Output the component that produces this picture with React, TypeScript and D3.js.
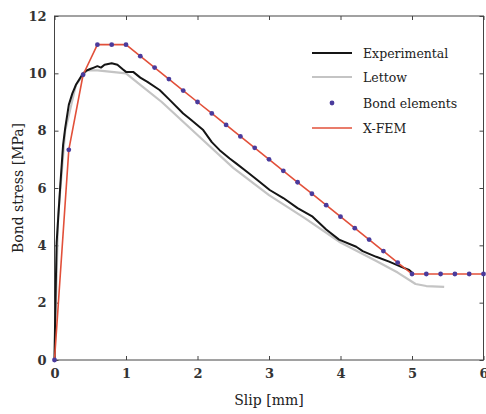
import * as d3 from "d3";
import { useEffect, useRef } from "react";

const W = 486;
const H = 414;

// X-FEM solution, also the bond element nodes (every 0.2 mm)
const xfemSlip = [0, 0.2, 0.4, 0.6, 0.8, 1.0, 1.2, 1.4, 1.6, 1.8, 2.0, 2.2, 2.4, 2.6, 2.8, 3.0, 3.2, 3.4, 3.6, 3.8, 4.0, 4.2, 4.4, 4.6, 4.8, 5.0, 5.2, 5.4, 5.6, 5.8, 6.0];
const xfemStress = [0, 7.33, 9.95, 11, 11, 11, 10.6, 10.2, 9.8, 9.4, 9.0, 8.6, 8.2, 7.8, 7.4, 7.0, 6.6, 6.2, 5.8, 5.4, 5.0, 4.6, 4.2, 3.8, 3.4, 3.0, 3.0, 3.0, 3.0, 3.0, 3.0];

const expSlip = [0, 0.01, 0.03, 0.08, 0.12, 0.15, 0.2, 0.25, 0.3, 0.35, 0.4, 0.45, 0.5, 0.55, 0.6, 0.65, 0.7, 0.8, 0.88, 0.95, 1.0, 1.1, 1.2, 1.3, 1.47, 1.6, 1.8, 1.9, 2.08, 2.2, 2.31, 2.45, 2.54, 2.7, 2.85, 3.01, 3.2, 3.4, 3.61, 3.8, 3.98, 4.22, 4.31, 4.5, 4.68, 4.85, 4.96, 5.0];
const expStress = [0, 1.6, 4.1, 6.05, 7.5, 8.1, 8.9, 9.3, 9.6, 9.8, 10.0, 10.1, 10.15, 10.2, 10.25, 10.2, 10.3, 10.35, 10.3, 10.15, 10.05, 10.05, 9.85, 9.7, 9.42, 9.1, 8.6, 8.4, 8.02, 7.6, 7.32, 7.03, 6.86, 6.55, 6.25, 5.93, 5.65, 5.3, 5.0, 4.55, 4.2, 3.95, 3.8, 3.6, 3.43, 3.25, 3.14, 3.05];

const lettowSlip = [0, 0.05, 0.15, 0.3, 0.45, 0.6, 0.8, 1.0, 1.2, 1.5, 2.0, 2.5, 3.0, 3.5, 4.0, 4.5, 4.8, 5.05, 5.2, 5.45];
const lettowStress = [0, 5, 8, 9.6, 10.1, 10.1, 10.05, 10.0, 9.6, 9.0, 7.85, 6.7, 5.75, 4.95, 4.1, 3.45, 3.05, 2.65, 2.58, 2.55];

const xTicks = [0, 1, 2, 3, 4, 5, 6];
const yTicks = [0, 2, 4, 6, 8, 10, 12];

const legendNames = ["Experimental", "Lettow", "Bond elements", "X-FEM"];

const FONT = "'DejaVu Serif', serif";

export default function App() {
  const svgRef = useRef<SVGSVGElement>(null);

  useEffect(() => {
    const svg = d3.select(svgRef.current);
    svg.selectAll("*").remove();

    const left = 54.5, right = 483.5, top = 16, bottom = 360;
    const x = d3.scaleLinear().domain([0, 6]).range([left, right]);
    const y = d3.scaleLinear().domain([0, 12]).range([bottom, top]);

    const g = svg.append("g");

    // frame
    g.append("rect")
      .attr("x", left).attr("y", top)
      .attr("width", right - left).attr("height", bottom - top)
      .attr("fill", "none").attr("stroke", "#444").attr("stroke-width", 1);

    // axes with inward ticks, mirrored on top/right
    const tickStyle = (sel: any) => {
      sel.select(".domain").remove();
      sel.selectAll("line").attr("stroke", "#444");
      sel.selectAll("text")
        .attr("fill", "#333")
        .attr("font-family", FONT)
        .attr("font-size", 13)
        .attr("font-weight", "bold");
    };

    g.append("g").attr("transform", `translate(0,${bottom})`)
      .call(d3.axisBottom(x).tickValues(xTicks).tickSizeInner(-4).tickSizeOuter(0).tickPadding(9).tickFormat(d3.format("d")))
      .call(tickStyle);
    g.append("g").attr("transform", `translate(0,${top})`)
      .call(d3.axisTop(x).tickValues(xTicks).tickSizeInner(-4).tickSizeOuter(0).tickFormat(() => ""))
      .call(tickStyle);
    g.append("g").attr("transform", `translate(${left},0)`)
      .call(d3.axisLeft(y).tickValues(yTicks).tickSizeInner(-4).tickSizeOuter(0).tickPadding(8).tickFormat(d3.format("d")))
      .call(tickStyle);
    g.append("g").attr("transform", `translate(${right},0)`)
      .call(d3.axisRight(y).tickValues(yTicks).tickSizeInner(-4).tickSizeOuter(0).tickFormat(() => ""))
      .call(tickStyle);

    const line = d3.line<[number, number]>()
      .x((d) => x(d[0]))
      .y((d) => y(d[1]));

    const lettow = lettowSlip.map((s, i) => [s, lettowStress[i]] as [number, number]);
    const exp = expSlip.map((s, i) => [s, expStress[i]] as [number, number]);
    const xfem = xfemSlip.map((s, i) => [s, xfemStress[i]] as [number, number]);

    g.append("path").attr("d", line(lettow)).attr("fill", "none")
      .attr("stroke", "#c4c4c4").attr("stroke-width", 2.2).attr("stroke-linejoin", "round");
    g.append("path").attr("d", line(exp)).attr("fill", "none")
      .attr("stroke", "#151515").attr("stroke-width", 2).attr("stroke-linejoin", "round");
    g.append("path").attr("d", line(xfem)).attr("fill", "none")
      .attr("stroke", "#e2503a").attr("stroke-width", 1.6).attr("stroke-linejoin", "round");
    g.selectAll(".dot").data(xfem).join("circle")
      .attr("cx", (d) => x(d[0])).attr("cy", (d) => y(d[1]))
      .attr("r", 2.4).attr("fill", "#4a3b9c");

    // legend
    const lg = g.append("g");
    const rowY = [53, 77, 103, 128];
    legendNames.forEach((name, i) => {
      const ry = rowY[i];
      if (i === 0) lg.append("line").attr("x1", 312).attr("x2", 352).attr("y1", ry).attr("y2", ry).attr("stroke", "#151515").attr("stroke-width", 2);
      if (i === 1) lg.append("line").attr("x1", 312).attr("x2", 352).attr("y1", ry).attr("y2", ry).attr("stroke", "#c4c4c4").attr("stroke-width", 2.2);
      if (i === 2) lg.append("circle").attr("cx", 332).attr("cy", ry).attr("r", 2.4).attr("fill", "#4a3b9c");
      if (i === 3) lg.append("line").attr("x1", 312).attr("x2", 352).attr("y1", ry).attr("y2", ry).attr("stroke", "#e2503a").attr("stroke-width", 1.6);
      lg.append("text").attr("x", 363).attr("y", ry + 4.5)
        .attr("font-family", FONT).attr("font-size", 12.5)
        .attr("fill", "#222").text(name);
    });

    // axis labels
    g.append("text")
      .attr("x", (left + right) / 2).attr("y", 405)
      .attr("text-anchor", "middle")
      .attr("font-family", FONT).attr("font-size", 14).attr("fill", "#222")
      .text("Slip [mm]");
    g.append("text")
      .attr("transform", `translate(23,${(top + bottom) / 2}) rotate(-90)`)
      .attr("text-anchor", "middle")
      .attr("font-family", FONT).attr("font-size", 14).attr("fill", "#222")
      .text("Bond stress [MPa]");
  }, []);

  return (
    <svg
      ref={svgRef}
      width={W}
      height={H}
      style={{ position: "absolute", left: 0, top: 0, background: "#fff" }}
    />
  );
}
